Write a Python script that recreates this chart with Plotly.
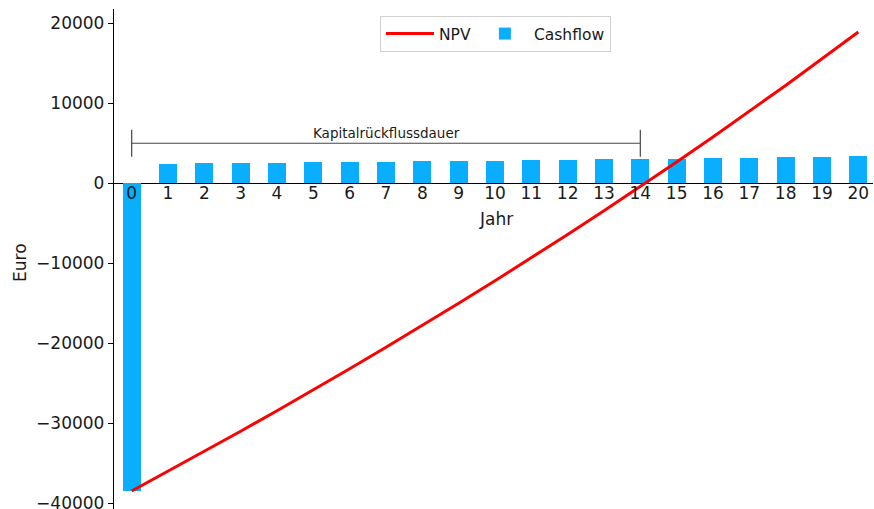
import plotly.graph_objects as go

years = list(range(0, 21))
cashflow = [-38500, 2460, 2490, 2530, 2560, 2610, 2640, 2690, 2720, 2790, 2810,
            2880, 2910, 2970, 3010, 3090, 3120, 3210, 3240, 3330, 3360]
npv = [-38500, -36040, -33550, -31020, -28460, -25850, -23210, -20520, -17800,
       -15010, -12200, -9320, -6410, -3440, -430, 2660, 5780, 8990, 12230,
       15560, 18920]
y_ticks = [-40000, -30000, -20000, -10000, 0, 10000, 20000]
payback_start = 0
payback_end = 14
bracket_y = 5000
bracket_half = 1700
payback_label = "Kapitalrückflussdauer"

FONT = "DejaVu Sans"
TXT = "#1a1a1a"
y_range = [-40750, 21790]
zero_pos = (0 - y_range[0]) / (y_range[1] - y_range[0])
label_axis_pos = zero_pos + 2 / 500

fig = go.Figure()
fig.add_trace(go.Bar(x=years, y=cashflow, name="Cashflow", width=0.5,
                     marker=dict(color="#0aaeff", line=dict(width=0))))
fig.add_trace(go.Scatter(x=years, y=npv, name="NPV", mode="lines",
                         line=dict(color="#ff0000", width=3)))

# bracket for payback period
bcol = "#444444"
fig.add_shape(type="line", x0=payback_start, x1=payback_end, y0=bracket_y, y1=bracket_y,
              line=dict(color=bcol, width=1.2))
for xv in (payback_start, payback_end):
    fig.add_shape(type="line", x0=xv, x1=xv, y0=bracket_y - bracket_half,
                  y1=bracket_y + bracket_half, line=dict(color=bcol, width=1.2))
fig.add_annotation(x=(payback_start + payback_end) / 2, y=bracket_y, text=payback_label,
                   showarrow=False, yanchor="bottom", yshift=0,
                   font=dict(family=FONT, size=13.5, color=TXT))

fig.add_annotation(xref="paper", yref="paper", x=0.503, y=(509 - 219) / 500,
                   text="Jahr", showarrow=False, xanchor="center", yanchor="middle",
                   font=dict(family=FONT, size=17, color=TXT))
fig.add_annotation(xref="paper", yref="paper", x=(20 - 114) / 759, y=(509 - 263) / 500,
                   text="Euro", showarrow=False, textangle=-90, xanchor="center",
                   yanchor="middle", font=dict(family=FONT, size=17, color=TXT))

fig.update_layout(
    width=874, height=509,
    margin=dict(l=114, r=1, t=9, b=0, autoexpand=False),
    plot_bgcolor="white", paper_bgcolor="white",
    font=dict(family=FONT, size=17, color=TXT),
    showlegend=True,
    legend=dict(orientation="h", x=0.5026, xanchor="center", y=(509 - 16) / 500,
                yanchor="top", traceorder="reversed", bordercolor="#d0d0d0",
                borderwidth=1, bgcolor="white", font=dict(family=FONT, size=15.5, color=TXT),
                itemwidth=48),
    bargap=0,
)
fig.update_xaxes(range=[-0.487, 20.405], tickmode="array", tickvals=years,
                 ticktext=[str(y) for y in years], showgrid=False, zeroline=False,
                 showline=False, automargin=False,
                 anchor="free", position=label_axis_pos, ticks="", ticklen=0,
                 tickfont=dict(family=FONT, size=17, color=TXT))
fig.update_yaxes(range=y_range, tickmode="array", tickvals=y_ticks,
                 ticktext=[str(v).replace("-", "\u2212") for v in y_ticks],
                 showgrid=False, zeroline=True, zerolinecolor="black", zerolinewidth=1.4,
                 showline=True, linecolor="black", automargin=False,
                 ticklabeloverflow="allow",
                 linewidth=1.3, ticks="outside", ticklen=5, tickcolor="black",
                 tickfont=dict(family=FONT, size=17, color=TXT))

fig.write_html("out.html",
               config={"displayModeBar": False},
               post_script="document.body.style.margin='0';"
                           "document.body.style.overflow='hidden';")
